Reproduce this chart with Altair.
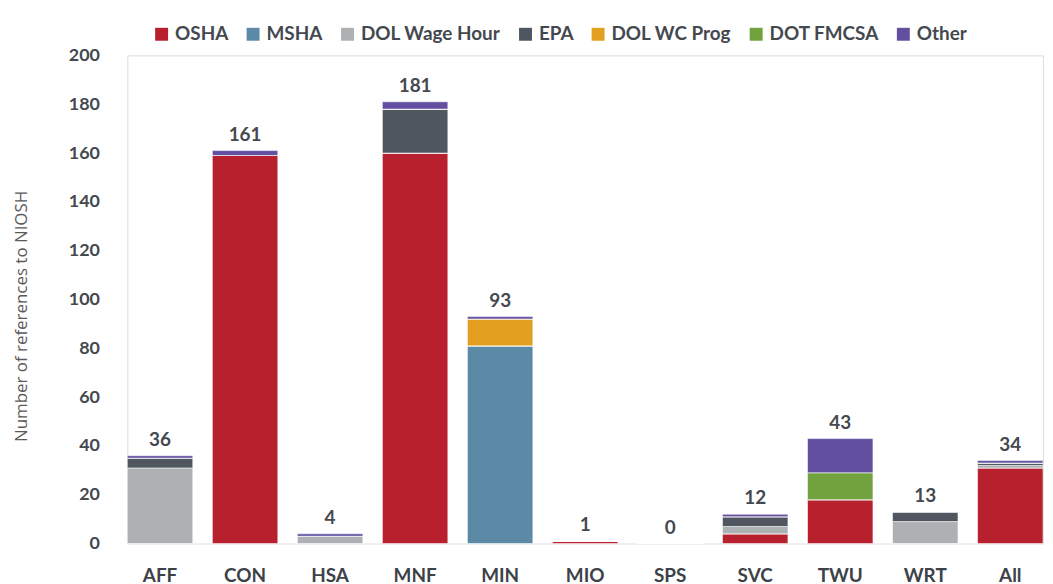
import altair as alt
import pandas as pd

sectors = ["AFF", "CON", "HSA", "MNF", "MIN", "MIO", "SPS", "SVC", "TWU", "WRT", "All"]
agencies = ["OSHA", "MSHA", "DOL Wage Hour", "EPA", "DOL WC Prog", "DOT FMCSA", "Other"]
colors = ["#B8202E", "#5B89A6", "#ADB1B3", "#4F5660", "#E3A020", "#72A23D", "#624FA0"]

osha =      [0, 159, 0, 160, 0, 1, 0, 4, 18, 0, 31]
msha =      [0, 0, 0, 0, 81, 0, 0, 0, 0, 0, 0]
dol_wh =    [31, 0, 3, 0, 0, 0, 0, 3, 0, 9, 1]
epa =       [4, 0, 0, 18, 0, 0, 0, 4, 0, 4, 1]
dol_wc =    [0, 0, 0, 0, 11, 0, 0, 0, 0, 0, 0]
dot_fmcsa = [0, 0, 0, 0, 0, 0, 0, 0, 11, 0, 0]
other =     [1, 2, 1, 3, 1, 0, 0, 1, 14, 0, 1]
totals =    [36, 161, 4, 181, 93, 1, 0, 12, 43, 13, 34]

series = [osha, msha, dol_wh, epa, dol_wc, dot_fmcsa, other]
rows = []
for ai, (name, vals) in enumerate(zip(agencies, series)):
    for s, v in zip(sectors, vals):
        rows.append({"sector": s, "agency": name, "value": v, "idx": ai})
df = pd.DataFrame(rows)
tot = pd.DataFrame({"sector": sectors, "total": totals})

FONT = "Lato"
DARK = "#44494F"

x_enc = alt.X("sector:N", sort=sectors, title=None,
              scale=alt.Scale(paddingInner=0.23, paddingOuter=0),
              axis=alt.Axis(labelAngle=0, labelFontSize=19, labelFontWeight="bold",
                            labelColor="#3D4249", labelPadding=23, domain=False,
                            ticks=False, labelFont=FONT))

bars = alt.Chart(df).mark_bar(stroke="white", strokeWidth=0.8, strokeOpacity=0.7).encode(
    x=x_enc,
    y=alt.Y("value:Q", stack="zero",
            scale=alt.Scale(domain=[0, 200], nice=False),
            axis=alt.Axis(values=list(range(0, 201, 20)), grid=False, domain=False, ticks=False,
                          labelFontSize=18, labelFontWeight="bold", labelColor=DARK,
                          labelPadding=28, labelFont=FONT,
                          title="Number of references to NIOSH", titleFontSize=17,
                          titleFontWeight="normal", titleColor="#595959", titleFont="Open Sans",
                          titleX=-97, titleY=262, titleAngle=-90, titleBaseline="bottom")),
    color=alt.Color("agency:N", sort=agencies,
                    scale=alt.Scale(domain=agencies, range=colors),
                    legend=alt.Legend(title=None, orient="none", direction="horizontal",
                                      legendX=25, legendY=-31, symbolType="square",
                                      symbolSize=169, symbolStrokeWidth=0,
                                      labelFontSize=19, labelFontWeight="bold",
                                      labelColor=DARK, labelFont=FONT,
                                      columnPadding=15, labelOffset=4, columns=7)),
    order=alt.Order("idx:Q", sort="ascending"),
)

labels = alt.Chart(tot).mark_text(dy=-6, fontSize=19, fontWeight="bold", color=DARK,
                                  font=FONT, baseline="bottom").encode(
    x=alt.X("sector:N", sort=sectors),
    y=alt.Y("total:Q"),
    text=alt.Text("total:Q"),
)

chart = alt.layer(bars, labels).properties(
    width=921, height=491,
    autosize=alt.AutoSizeParams(type="none"),
    padding={"left": 120, "top": 46, "right": 2, "bottom": 42},
).configure_view(strokeWidth=0).configure(font=FONT)

chart.save("out.html", embed_options={"renderer": "svg", "actions": False})
